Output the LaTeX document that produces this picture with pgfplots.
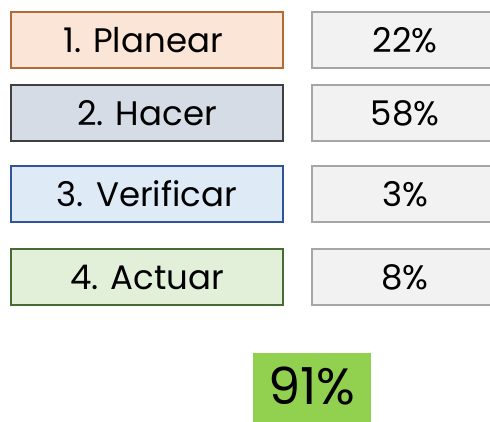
\documentclass[border=0pt]{standalone}
\usepackage{pgfplots}
\pgfplotsset{compat=1.18}
\usepackage{fontspec}
\setmainfont{Poppins}
\definecolor{f1}{HTML}{FBE5D6}\definecolor{d1}{HTML}{B46A37}
\definecolor{f2}{HTML}{D6DCE5}\definecolor{d2}{HTML}{404040}
\definecolor{f3}{HTML}{DEEBF7}\definecolor{d3}{HTML}{2F5597}
\definecolor{f4}{HTML}{E2F0D9}\definecolor{d4}{HTML}{476B32}
\definecolor{fg}{HTML}{F2F2F2}\definecolor{dg}{HTML}{A6A6A6}
\definecolor{tot}{HTML}{92D050}
\begin{document}
\begin{tikzpicture}
\begin{axis}[
  scale only axis, width=490bp, height=421bp,
  xmin=0, xmax=490, ymin=0, ymax=421, y dir=reverse,
  hide axis, clip=true,
]
% invisible frame to fix the bounding box
\addplot[draw=none, mark=none] coordinates {(0,0) (490,0) (490,421) (0,421)};
% left boxes
\addplot[fill=f1, draw=d1, line width=1.3bp, mark=none] coordinates {(11,12) (283,12) (283,68) (11,68)} -- cycle;
\addplot[fill=f2, draw=d2, line width=1.3bp, mark=none] coordinates {(11,85) (283,85) (283,141) (11,141)} -- cycle;
\addplot[fill=f3, draw=d3, line width=1.3bp, mark=none] coordinates {(11,166) (283,166) (283,222) (11,222)} -- cycle;
\addplot[fill=f4, draw=d4, line width=1.3bp, mark=none] coordinates {(11,249) (283,249) (283,305) (11,305)} -- cycle;
% right boxes
\addplot[fill=fg, draw=dg, line width=1.3bp, mark=none] coordinates {(312,12) (500,12) (500,68) (312,68)} -- cycle;
\addplot[fill=fg, draw=dg, line width=1.3bp, mark=none] coordinates {(312,85) (500,85) (500,141) (312,141)} -- cycle;
\addplot[fill=fg, draw=dg, line width=1.3bp, mark=none] coordinates {(312,166) (500,166) (500,222) (312,222)} -- cycle;
\addplot[fill=fg, draw=dg, line width=1.3bp, mark=none] coordinates {(312,249) (500,249) (500,305) (312,305)} -- cycle;
% total box
\addplot[fill=tot, draw=none, mark=none] coordinates {(253,353) (371,353) (371,430) (253,430)} -- cycle;
% labels
\addplot[draw=none, mark=none, point meta=explicit symbolic, nodes near coords,
  every node near coord/.append style={anchor=center, font=\fontsize{34bp}{38bp}\selectfont, text=black, inner sep=0pt}]
  coordinates {(143,40)[1. Planear] (147,113)[2. Hacer] (147,194)[3. Verificar] (147,277)[4. Actuar]
  (405,40)[22\%] (405,113)[58\%] (405,194)[3\%] (405,277)[8\%]};
\addplot[draw=none, mark=none, point meta=explicit symbolic, nodes near coords,
  every node near coord/.append style={anchor=center, font=\fontsize{51bp}{55bp}\selectfont, text=black, inner sep=0pt}]
  coordinates {(312,386)[91\%]};
\end{axis}
\end{tikzpicture}
\end{document}
